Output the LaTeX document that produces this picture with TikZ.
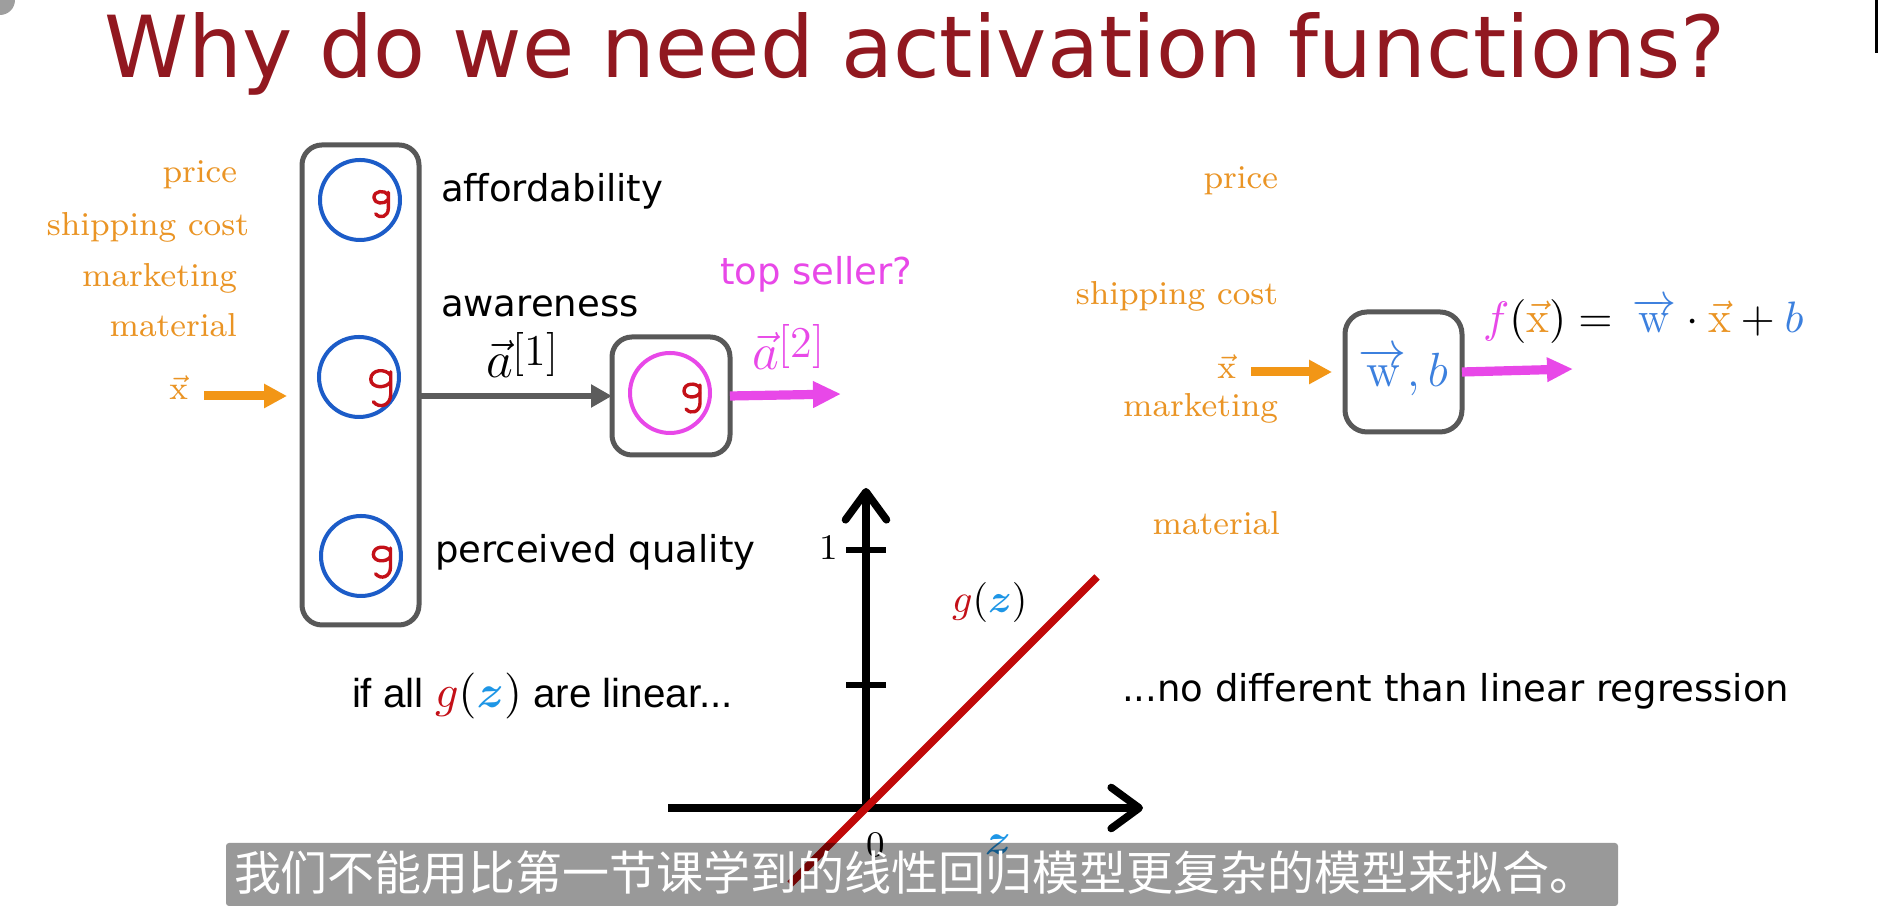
\RequirePackage{fix-cm}
\documentclass[tikz,border=0pt]{standalone}
\usepackage{amsmath}
\usepackage{bm}
\usepackage{fontspec}
\usetikzlibrary{arrows.meta}
\newfontfamily\vsans{DejaVu Sans}
\newfontfamily\asans{Liberation Sans}
\newfontfamily\cjkfont{Noto Sans CJK SC}

\definecolor{titlered}{RGB}{145,24,32}
\definecolor{inorange}{RGB}{234,148,36}
\definecolor{arrorange}{RGB}{242,150,22}
\definecolor{mag}{RGB}{232,72,232}
\definecolor{unitblue}{RGB}{28,92,200}
\definecolor{wblue}{RGB}{60,128,222}
\definecolor{zblue}{RGB}{30,150,230}
\definecolor{gred}{RGB}{196,16,24}
\definecolor{linered}{RGB}{192,8,8}
\definecolor{boxgray}{RGB}{88,88,88}
\definecolor{arrgray}{RGB}{92,92,92}

\newcommand{\setpx}[1]{\fontsize{#1}{#1}\selectfont}
% vector a with a bracketed layer index, set in upright text
\newcommand{\layervec}[1]{$\vec{a}$\raisebox{3pt}{\setpx{11pt}[#1]}}

\tikzset{
  every node/.style={inner sep=0pt, outer sep=0pt},
  heading/.style={text=titlered, font=\vsans, anchor=base},
  featlbl/.style={text=inorange, font=\setpx{8.3pt}, anchor=base east},
  unitlbl/.style={font=\vsans\setpx{9.25pt}, anchor=base west},
  layerbox/.style={draw=boxgray, line width=1.25pt, rounded corners=5pt, rectangle},
  unit/.style={circle, draw=unitblue, line width=1pt, minimum size=20pt},
  outunit/.style={circle, draw=mag, line width=1pt, minimum size=20pt},
  gstroke/.style={draw=gred, line width=0.85pt, line cap=round, line join=round},
  handg/.pic={
    \draw[gstroke] (7,-10) .. controls (3,-16) and (-9,-15) .. (-9,-7)
                   .. controls (-9,0) and (3,1) .. (7,-5);
    \draw[gstroke] (7,-13) -- (7,5) .. controls (7,14) and (-2,17) .. (-7,11);
  },
  orangearrow/.style={draw=arrorange, line width=2.25pt, -{Triangle[length=5.75pt,width=5.75pt]}},
  grayarrow/.style={draw=arrgray, line width=1.7pt, -{Triangle[length=5.25pt,width=5.5pt]}},
  magarrow/.style={draw=mag, line width=2.3pt, -{Triangle[length=7pt,width=6.25pt]}},
  axisline/.style={draw=black, line width=1.9pt, -{Straight Barb[round,length=7pt,width=10.25pt]}},
  tickline/.style={draw=black, line width=1.6pt},
}

\begin{document}
\begin{tikzpicture}[x=0.25pt,y=-0.25pt]
\useasboundingbox (0,0) rectangle (1878,906);
\fill[white] (0,0) rectangle (1878,906);

% corner marks of the frame
\fill[black!38] (0,0) circle (15);
\fill[black] (1875,0) rectangle (1878,53);

% heading
\node[heading] (title) at (915,78)
  {\resizebox{405pt}{16.25pt}{Why do we need activation functions?}};

% ---- network with a hidden layer ----
\node[featlbl] (f1) at (237,183) {price};
\node[featlbl] (f2) at (249,236) {shipping cost};
\node[featlbl] (f3) at (237,287) {marketing};
\node[featlbl] (f4) at (237,337) {material};
\node[featlbl] (xin) at (188,400) {$\vec{\mathrm{x}}$};

\node[layerbox, minimum width=29.25pt, minimum height=120pt] (L1) at (360.5,385) {};
\node[unit] (c1) at (360,200) {};
\node[unit] (c2) at (359,377) {};
\node[unit] (c3) at (361,556) {};
\pic[scale=0.9] at (382,204) {handg};
\pic[scale=1.25] at (382,388) {handg};
\pic[scale=1.07] at (383,562) {handg};

\node[unitlbl] (u1) at (441,202) {affordability};
\node[unitlbl] (u2) at (441,317) {awareness};
\node[unitlbl] (u3) at (435,563) {perceived quality};

\node[layerbox, minimum width=29.5pt, minimum height=29.5pt] (out2) at (671,396) {};
\node[outunit] (c4) at (670,393) {};
\pic[scale=1.0] at (693,398) {handg};

\node[unitlbl, text=mag] (top) at (720,285) {top seller?};
\node[anchor=base west, font=\setpx{13pt}] (a1) at (486,378) {\layervec{1}};
\node[anchor=base west, font=\setpx{13pt}, text=mag] (a2) at (752,370) {\layervec{2}};

\coordinate (xs) at (204,396);
\draw[orangearrow, shorten >=3.75pt] (xs) -- (xs -| L1.west);
\draw[grayarrow] (L1.east |- out2.west) -- (out2.west);
\coordinate (o2) at (841,394);
\draw[magarrow] (out2.east) -- (o2);

% ---- plain linear regression ----
\node[featlbl] (r1) at (1278,189) {price};
\node[featlbl] (r2) at (1278,305) {shipping cost};
\node[featlbl] (xin2) at (1236,379) {$\vec{\mathrm{x}}$};
\node[featlbl] (r3) at (1278,417) {marketing};
\node[featlbl] (r4) at (1280,535) {material};

\node[layerbox, rounded corners=5.5pt, minimum width=29.25pt, minimum height=30pt,
      font=\setpx{12pt}, text=wblue] (lr) at (1403.5,372)
  {$\overrightarrow{\mathrm{w}}{,}\,b$};

\coordinate (xs2) at (1251,372);
\draw[orangearrow, shorten >=3.25pt] (xs2) -- (lr.west);
\coordinate (o3) at (1573,369);
\draw[magarrow, -{Triangle[length=6.5pt,width=5.75pt]}] (lr.east) -- (o3);

\node[anchor=base west, font=\setpx{11pt}] (fx) at (1483,333)
  {$\textcolor{mag}{f}(\textcolor{inorange}{\vec{\mathrm{x}}}) = \,
    \textcolor{wblue}{\overrightarrow{\mathrm{w}}}\cdot\textcolor{inorange}{\vec{\mathrm{x}}}
    + \textcolor{wblue}{b}$};

% ---- captions ----
\node[anchor=base west, font=\asans\setpx{10.1pt}] (cap1) at (352,708)
  {if all {\setpx{11.5pt}$\textcolor{gred}{g}(\textcolor{zblue}{\bm{z}})$} are linear...};
\node[unitlbl] (cap2) at (1122,702) {...no different than linear regression};

% ---- plot of a linear g(z) ----
\coordinate (O) at (866,808);
\coordinate (ytip) at (866,488);
\coordinate (xleft) at (668,808);
\coordinate (xtip) at (1143,808);
\coordinate (t1) at (866,550);
\coordinate (t2) at (866,685);
\coordinate (gl1) at (790,884);
\coordinate (gl2) at (1097,577);

\draw[axisline] (O) -- (ytip);
\draw[axisline] (xleft) -- (xtip);
\draw[tickline] ([xshift=-5pt]t1) -- ([xshift=5pt]t1);
\draw[tickline] ([xshift=-5pt]t2) -- ([xshift=5pt]t2);
\draw[linered, line width=1.9pt] (gl1) -- (gl2);

\node[font=\setpx{9pt}] (one) at (829,548) {1};
\node[font=\setpx{9pt}] (zero) at (876,845) {0};
\node[font=\setpx{11pt}, text=zblue] (zl) at (998,845) {$\bm{z}$};
\node[anchor=base west, font=\setpx{10pt}] (gz) at (952,613)
  {$\textcolor{gred}{g}(\textcolor{zblue}{\bm{z}})$};

% ---- subtitle strip ----
\node[rectangle, fill=black, fill opacity=0.4, rounded corners=0.75pt,
      minimum width=348pt, minimum height=15.75pt] (subbar) at (922,874.5) {};
\node[anchor=base west, text=white, font=\cjkfont\setpx{11.75pt}] (subtxt) at (234,891)
  {我们不能用比第一节课学到的线性回归模型更复杂的模型来拟合。};

\end{tikzpicture}
\end{document}
